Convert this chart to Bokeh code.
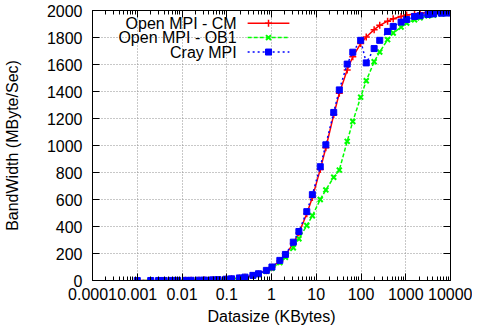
from bokeh.plotting import figure
from bokeh.models import (LinearAxis, LogAxis, FixedTicker, CustomJSTickFormatter,
                          Range1d, LinearScale)
from bokeh.core.properties import value
from bokeh.embed import file_html
from bokeh.resources import INLINE

# ---- data (Datasize in KBytes, bandwidth in MByte/Sec) ----
datasize_kb = [0.001, 0.002, 0.003, 0.004, 0.006, 0.008, 0.012, 0.016, 0.024, 0.032,
               0.048, 0.064, 0.096, 0.128, 0.192, 0.256, 0.384, 0.512, 0.768, 1.024,
               1.536, 2.048, 3.072, 4.096, 6.144, 8.192, 12.288, 16.384, 24.576, 32.768,
               49.152, 65.536, 98.304, 131.072, 196.608, 262.144, 393.216, 524.288,
               786.432, 1048.576, 1572.864, 2097.152, 3145.728, 4194.304, 6291.456,
               8388.608]

openmpi_cm = [0.1, 0.2, 0.3, 0.4, 0.6, 0.8, 1.2, 1.6, 2.4, 3.1,
              4.6, 6.1, 9.2, 12.2, 18.4, 24, 37, 49, 73, 98,
              145, 188, 275, 352, 495, 615, 823, 983, 1228, 1387,
              1559, 1657, 1755, 1804, 1858, 1890, 1921, 1939,
              1956, 1966, 1975, 1980, 1985, 1988, 1990,
              1992]

openmpi_ob1 = [0.09, 0.18, 0.27, 0.36, 0.54, 0.72, 1.1, 1.4, 2.1, 2.8,
               4.2, 5.6, 8.4, 11.2, 16.8, 22, 34, 45, 68, 90,
               132, 172, 243, 309, 407, 480, 600, 671, 765, 818,
               1031, 1178, 1358, 1480, 1620, 1693, 1784, 1833,
               1877, 1907, 1931, 1946, 1961, 1966, 1975,
               1980]

cray_mpi = [0.1, 0.2, 0.3, 0.4, 0.6, 0.8, 1.2, 1.6, 2.4, 3.2,
            4.7, 6.3, 9.5, 12.6, 19, 25, 38, 50, 75, 100,
            149, 193, 284, 363, 510, 636, 843, 1005, 1245, 1412,
            1603, 1691, 1779, 1612, 1718, 1779, 1845, 1882,
            1914, 1933, 1956, 1961, 1970, 1975, 1980,
            1981]

series_names = ["Open MPI - CM", "Open MPI - OB1", "Cray MPI"]
x_ticks = [0.0001, 0.001, 0.01, 0.1, 1, 10, 100, 1000, 10000]
y_ticks = [0, 200, 400, 600, 800, 1000, 1200, 1400, 1600, 1800, 2000]

# ---- styling ----
FONT = "Liberation Sans"
FS = "16px"
x_minor = [m * 10.0 ** e for e in range(-4, 4) for m in range(2, 10)]

W, H = 472, 327
BL, BR, BT, BB = 90, 22, 10, 46
FRAME_W, FRAME_H = W - BL - BR, H - BT - BB
p = figure(width=W, height=H, x_axis_type="log",
           x_range=(0.0001, 10000), y_range=(0, 2000),
           output_backend="svg", toolbar_location=None,
           min_border_left=BL, min_border_right=BR,
           min_border_top=BT, min_border_bottom=BB)
p.background_fill_color = "white"
p.border_fill_color = "white"
p.outline_line_color = "black"
p.outline_line_width = 1

fmt = CustomJSTickFormatter(code="return tick.toString();")
blank = CustomJSTickFormatter(code="return '';")

xa = p.xaxis[0]
xa.ticker = FixedTicker(ticks=x_ticks, minor_ticks=x_minor)
xa.formatter = fmt
ya = p.yaxis[0]
ya.ticker = FixedTicker(ticks=y_ticks)

for ax in (xa, ya):
    ax.major_tick_in = 7
    ax.major_tick_out = 0
    ax.minor_tick_in = 4
    ax.minor_tick_out = 0
    ax.axis_line_color = "black"
    ax.major_tick_line_color = "black"
    ax.minor_tick_line_color = "black"
    ax.major_label_text_font = FONT
    ax.major_label_text_font_size = FS
    ax.major_label_text_color = "black"
    ax.axis_label_text_font = FONT
    ax.axis_label_text_font_size = FS
    ax.axis_label_text_font_style = "normal"
    ax.axis_label_text_color = "black"

xa.axis_label = "Datasize (KBytes)"
xa.major_label_standoff = 7
xa.axis_label_standoff = 5
ya.axis_label = "BandWidth (MByte/Sec)"
ya.major_label_standoff = 10
ya.axis_label_standoff = 23
ya.minor_tick_in = 0

# mirrored axes (ticks only)
ra = LinearAxis(ticker=FixedTicker(ticks=y_ticks), formatter=blank,
                major_label_text_font_size="1px", major_label_text_alpha=0,
                major_tick_in=7, major_tick_out=0, minor_tick_in=0, minor_tick_out=0,
                major_label_standoff=0, axis_line_color="black")
p.add_layout(ra, "right")
ta = LogAxis(ticker=FixedTicker(ticks=x_ticks, minor_ticks=x_minor), formatter=blank,
             major_label_text_font_size="1px", major_label_text_alpha=0,
             major_tick_in=7, major_tick_out=0, minor_tick_in=4, minor_tick_out=0,
             major_label_standoff=0, axis_line_color="black")
p.add_layout(ta, "above")

for g in (p.xgrid[0], p.ygrid[0]):
    g.grid_line_color = "#909090"
    g.grid_line_dash = "1 2"
    g.grid_line_width = 1
p.xgrid[0].ticker = FixedTicker(ticks=x_ticks)
p.ygrid[0].ticker = FixedTicker(ticks=y_ticks)

styles = [
    dict(color="#ff0000", dash="solid", marker="cross", size=7, mlw=1.5),
    dict(color="#00ff00", dash="4 2", marker="x", size=7, mlw=2),
    dict(color="#0000ff", dash="2 3", marker="square", size=6, mlw=1),
]
series = [openmpi_cm, openmpi_ob1, cray_mpi]

for ys, st in zip(series, styles):
    p.line(datasize_kb, ys, line_color=st["color"], line_width=1.5, line_dash=st["dash"])
    p.scatter(datasize_kb, ys, marker=st["marker"], size=st["size"],
              line_color=st["color"], fill_color=st["color"], line_width=st["mlw"])

# ---- gnuplot-style key (text right-aligned, sample to the right), frame pixel coords ----
p.extra_x_ranges = {"key": Range1d(0, FRAME_W)}
p.extra_y_ranges = {"key": Range1d(0, FRAME_H)}
p.extra_x_scales = {"key": LinearScale()}
p.extra_y_scales = {"key": LinearScale()}
key_text_x = 145
key_line_x0, key_line_x1 = 156, 198
key_rows_y = [FRAME_H - 12.7, FRAME_H - 27.2, FRAME_H - 41.7]
for name, st, ky in zip(series_names, styles, key_rows_y):
    p.text(x=[key_text_x], y=[ky], text=[name], text_align="right", text_baseline="middle",
           text_font=value(FONT), text_font_size=FS, text_color="black",
           x_range_name="key", y_range_name="key")
    p.line([key_line_x0, key_line_x1], [ky, ky], line_color=st["color"], line_width=1.5,
           line_dash=st["dash"], x_range_name="key", y_range_name="key")
    p.scatter([(key_line_x0 + key_line_x1) / 2], [ky], marker=st["marker"], size=st["size"],
              line_color=st["color"], fill_color=st["color"], line_width=st["mlw"],
              x_range_name="key", y_range_name="key")

open("out.html", "w").write(file_html(p, INLINE))
